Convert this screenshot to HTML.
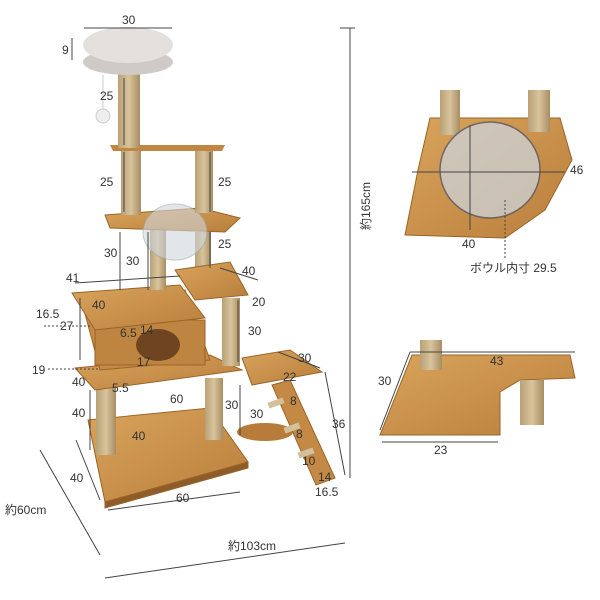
<!DOCTYPE html>
<html><head><meta charset="utf-8"><style>
html,body{margin:0;padding:0;background:#fff}
svg{display:block}
text{font-family:"Liberation Sans","Noto Sans CJK JP",sans-serif;fill:#333;font-size:12px}
</style></head><body>
<svg width="600" height="600" viewBox="0 0 600 600" xmlns="http://www.w3.org/2000/svg">
<defs>
<linearGradient id="wd" x1="0" y1="0" x2="1" y2="1"><stop offset="0" stop-color="#d9a45c"/><stop offset="1" stop-color="#b97e3c"/></linearGradient>
<linearGradient id="ss" x1="0" x2="1"><stop offset="0" stop-color="#b9a077"/><stop offset=".5" stop-color="#d8c49c"/><stop offset="1" stop-color="#a88c62"/></linearGradient>
</defs>
<rect width="600" height="600" fill="#fff"/>
<g stroke="#9a6428" stroke-width="1">
<polygon points="88,420 210,408 248,462 105,502" fill="url(#wd)"/>
<polygon points="105,502 248,462 248,468 105,508" fill="#8e5c28"/>
</g>
<rect x="96" y="385" width="20" height="70" fill="url(#ss)"/>
<rect x="205" y="378" width="18" height="62" fill="url(#ss)"/>
<ellipse cx="265" cy="432" rx="28" ry="9" fill="#b87c3a"/>
<polygon points="272,385 290,380 335,478 316,485" fill="#c48a45" stroke="#9a6428"/>
<rect x="268" y="400" width="16" height="6" fill="#d3c09a" transform="rotate(-20 276 403)"/>
<rect x="284" y="425" width="16" height="6" fill="#d3c09a" transform="rotate(-20 292 428)"/>
<rect x="298" y="450" width="16" height="6" fill="#d3c09a" transform="rotate(-20 306 453)"/>
<g stroke="#9a6428" stroke-width="1">
<polygon points="75,368 210,355 242,370 95,390" fill="url(#wd)"/>
<polygon points="242,358 290,350 322,372 252,385" fill="url(#wd)"/>
<polygon points="80,295 185,290 210,360 100,370" fill="#c58b46"/>
<rect x="95" y="320" width="110" height="45" fill="#be8540"/>
</g>
<ellipse cx="158" cy="345" rx="22" ry="16" fill="#6e4520"/>
<polygon points="72,293 180,285 205,318 95,330" fill="url(#wd)" stroke="#9a6428"/>
<rect x="222" y="298" width="18" height="68" fill="url(#ss)"/>
<rect x="195" y="232" width="16" height="40" fill="url(#ss)"/>
<polygon points="175,270 230,262 248,295 195,300" fill="url(#wd)" stroke="#9a6428"/>
<rect x="150" y="228" width="16" height="62" fill="url(#ss)"/>
<polygon points="105,215 200,208 240,218 225,232 110,228" fill="url(#wd)" stroke="#9a6428"/>
<ellipse cx="175" cy="232" rx="32" ry="28" fill="#cfd6dc" opacity=".6" stroke="#9aa"/>
<rect x="121" y="150" width="20" height="65" fill="url(#ss)"/>
<rect x="195" y="148" width="18" height="65" fill="url(#ss)"/>
<polygon points="110,145 225,145 222,151 113,151" fill="#c08642"/>
<rect x="118" y="70" width="22" height="78" fill="url(#ss)"/>
<ellipse cx="128" cy="62" rx="45" ry="13" fill="#cfcac6"/>
<ellipse cx="128" cy="45" rx="45" ry="18" fill="#e4e0dd"/>
<line x1="103" y1="75" x2="103" y2="110" stroke="#ccc"/>
<circle cx="103" cy="116" r="7" fill="#eee" stroke="#ccc"/>
<g stroke="#444" stroke-width="1" fill="none">
<line x1="84" y1="28" x2="172" y2="28"/><line x1="72" y1="38" x2="72" y2="60"/>
<line x1="350" y1="28" x2="350" y2="478"/><line x1="340" y1="28" x2="355" y2="28"/>
<line x1="105" y1="578" x2="345" y2="543"/>
<line x1="40" y1="450" x2="100" y2="555"/>
<line x1="75" y1="283" x2="180" y2="276"/>
<line x1="220" y1="268" x2="258" y2="280"/>
<line x1="108" y1="510" x2="240" y2="492"/>
<line x1="124" y1="78" x2="124" y2="145"/><line x1="124" y1="152" x2="124" y2="212"/>
<line x1="210" y1="152" x2="210" y2="212"/><line x1="210" y1="232" x2="210" y2="268"/>
<line x1="120" y1="232" x2="120" y2="290"/><line x1="148" y1="232" x2="148" y2="290"/>
<line x1="80" y1="298" x2="80" y2="360"/><line x1="238" y1="300" x2="238" y2="362"/>
<line x1="90" y1="390" x2="90" y2="450"/><line x1="76" y1="440" x2="100" y2="500"/>
<line x1="240" y1="385" x2="240" y2="435"/><line x1="325" y1="372" x2="345" y2="475"/>
<line x1="278" y1="352" x2="320" y2="368"/>
</g>
<g stroke="#444" stroke-dasharray="2,2" fill="none">
<line x1="44" y1="326" x2="92" y2="326"/><line x1="48" y1="369" x2="98" y2="369"/>
</g>
<text x="122" y="24">30</text><text x="62" y="54">9</text>
<text x="100" y="100">25</text><text x="100" y="186">25</text><text x="218" y="186">25</text>
<text x="218" y="248">25</text><text x="104" y="257">30</text><text x="126" y="265">30</text>
<text x="66" y="282">41</text><text x="92" y="309">40</text><text x="242" y="275">40</text>
<text x="252" y="306">20</text><text x="248" y="335">30</text>
<text x="36" y="318">16.5</text><text x="60" y="330">27</text><text x="120" y="337">6.5</text>
<text x="140" y="334">14</text><text x="137" y="366">17</text><text x="32" y="374">19</text>
<text x="72" y="386">40</text><text x="112" y="392">5.5</text>
<text x="72" y="417">40</text><text x="132" y="440">40</text><text x="170" y="403">60</text>
<text x="225" y="409">30</text><text x="250" y="418">30</text>
<text x="298" y="362">30</text><text x="283" y="381">22</text><text x="290" y="405">8</text>
<text x="296" y="438">8</text><text x="302" y="465">10</text><text x="332" y="428">36</text>
<text x="318" y="481">14</text><text x="315" y="496">16.5</text>
<text x="70" y="482">40</text><text x="176" y="502">60</text>
<text x="5" y="514">約60cm</text><text x="228" y="550">約103cm</text>
<text x="370" y="230" transform="rotate(-90 370 230)">約165cm</text>
<polygon points="430,118 560,118 572,160 545,210 505,238 405,235 418,170" fill="url(#wd)" stroke="#9a6428"/>
<rect x="440" y="90" width="20" height="45" fill="url(#ss)"/>
<rect x="528" y="90" width="22" height="42" fill="url(#ss)"/>
<ellipse cx="490" cy="170" rx="50" ry="48" fill="#cdd4da" opacity=".75" stroke="#556" stroke-width="1.5"/>
<g stroke="#444" fill="none"><line x1="412" y1="172" x2="565" y2="172"/><line x1="470" y1="125" x2="470" y2="230"/><line x1="505" y1="200" x2="505" y2="260" stroke-dasharray="2,2"/></g>
<text x="570" y="174">46</text><text x="462" y="248">40</text><text x="470" y="272">ボウル内寸 29.5</text>
<polygon points="412,355 570,355 575,378 520,380 500,392 500,435 380,435" fill="url(#wd)" stroke="#9a6428"/>
<rect x="420" y="340" width="22" height="30" fill="url(#ss)"/>
<rect x="520" y="380" width="24" height="45" fill="url(#ss)"/>
<g stroke="#444" fill="none"><line x1="380" y1="430" x2="410" y2="352"/><line x1="410" y1="352" x2="575" y2="352"/><line x1="382" y1="442" x2="498" y2="442"/></g>
<text x="378" y="385">30</text><text x="490" y="365">43</text><text x="434" y="454">23</text>
</svg>
</body></html>
